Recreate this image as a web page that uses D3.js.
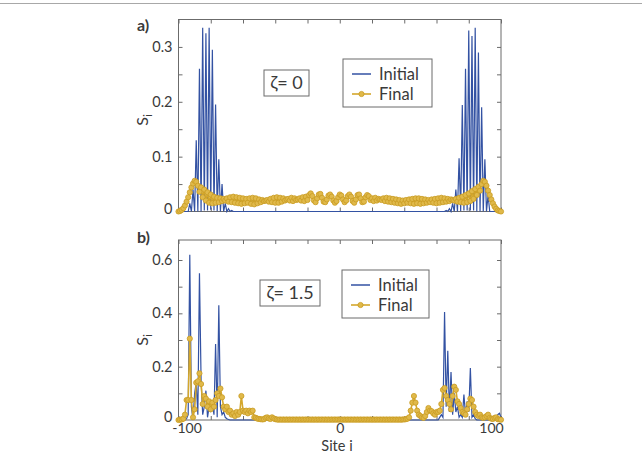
<!DOCTYPE html>
<html>
<head>
<meta charset="utf-8">
<script src="https://cdn.jsdelivr.net/npm/d3@7"></script>
<style>
    body { margin: 0; background: #fff; }
    text { font-family: Lato, "Open Sans", sans-serif; fill: #3a3a3a; }
    .axis path { display: none; }
    .axis line { stroke: #6b6b6b; }
</style>
</head>
<body>
<div id="chart"></div>
<script>
// Site index on the x axis
const sites = d3.range(-100, 101);

// Panel a) zeta = 0, one value per site from -100 to 100
const initialA = [
    0, 0, 0, 0, 0, 0, 0, 0.015, 0, 0.04,
    0, 0.13, 0, 0.26, 0, 0.335, 0.002, 0.325, 0.002, 0.335,
    0.003, 0.295, 0.002, 0.195, 0.001, 0.095, 0, 0.05, 0, 0.015,
    0, 0.005, 0, 0.002, 0, 0, 0, 0, 0, 0,
    0, 0, 0, 0, 0, 0, 0, 0, 0, 0,
    0, 0, 0, 0, 0, 0, 0, 0, 0, 0,
    0, 0, 0, 0, 0, 0, 0, 0, 0, 0,
    0, 0, 0, 0, 0, 0, 0, 0, 0, 0,
    0, 0, 0, 0, 0, 0, 0, 0, 0, 0,
    0, 0, 0, 0, 0, 0, 0, 0, 0, 0,
    0, 0, 0, 0, 0, 0, 0, 0, 0, 0,
    0, 0, 0, 0, 0, 0, 0, 0, 0, 0,
    0, 0, 0, 0, 0, 0, 0, 0, 0, 0,
    0, 0, 0, 0, 0, 0, 0, 0, 0, 0,
    0, 0, 0, 0, 0, 0, 0, 0, 0, 0,
    0, 0, 0, 0, 0, 0, 0, 0, 0, 0,
    0, 0, 0, 0, 0, 0, 0.002, 0, 0.005, 0,
    0.015, 0, 0.04, 0, 0.097, 0.001, 0.194, 0.002, 0.26, 0.002,
    0.33, 0.002, 0.32, 0.002, 0.335, 0, 0.29, 0, 0.19, 0,
    0.095, 0, 0.03, 0, 0, 0, 0, 0, 0, 0,
    0
];
const finalA = [
    0.000, 0.001, 0.003, 0.006, 0.011, 0.018, 0.026, 0.035, 0.044, 0.051,
    0.056, 0.054, 0.047, 0.036, 0.044, 0.026, 0.040, 0.020, 0.035, 0.016,
    0.031, 0.015, 0.027, 0.016, 0.025, 0.017, 0.024, 0.019, 0.023, 0.020,
    0.024, 0.018, 0.026, 0.017, 0.027, 0.016, 0.026, 0.015, 0.025, 0.014,
    0.024, 0.015, 0.023, 0.016, 0.024, 0.014, 0.025, 0.013, 0.024, 0.015,
    0.022, 0.017, 0.021, 0.019, 0.020, 0.021, 0.018, 0.023, 0.017, 0.025,
    0.016, 0.026, 0.016, 0.025, 0.018, 0.024, 0.020, 0.022, 0.023, 0.020,
    0.025, 0.019, 0.024, 0.021, 0.022, 0.024, 0.020, 0.026, 0.019, 0.027,
    0.021, 0.030, 0.033, 0.028, 0.020, 0.017, 0.024, 0.031, 0.032, 0.025,
    0.018, 0.017, 0.022, 0.029, 0.031, 0.027, 0.020, 0.016, 0.019, 0.026,
    0.031, 0.029, 0.022, 0.017, 0.020, 0.028, 0.031, 0.027, 0.019, 0.016,
    0.022, 0.030, 0.031, 0.024, 0.017, 0.018, 0.026, 0.030, 0.028, 0.021,
    0.024, 0.019, 0.025, 0.020, 0.023, 0.022, 0.021, 0.024, 0.019, 0.025,
    0.018, 0.024, 0.017, 0.023, 0.016, 0.022, 0.015, 0.021, 0.014, 0.020,
    0.015, 0.021, 0.016, 0.022, 0.015, 0.023, 0.014, 0.024, 0.015, 0.024,
    0.014, 0.023, 0.015, 0.022, 0.016, 0.021, 0.017, 0.022, 0.016, 0.023,
    0.015, 0.024, 0.016, 0.025, 0.017, 0.024, 0.018, 0.023, 0.019, 0.022,
    0.021, 0.020, 0.023, 0.018, 0.025, 0.017, 0.027, 0.016, 0.030, 0.017,
    0.033, 0.019, 0.037, 0.023, 0.041, 0.030, 0.045, 0.038, 0.050, 0.056,
    0.054, 0.047, 0.038, 0.030, 0.022, 0.015, 0.009, 0.005, 0.002, 0.001,
    0.000
];

// Panel b) zeta = 1.5
const initialB = [
    0, 0, 0, 0, 0, 0.005, 0.02, 0.62, 0.05, 0,
    0.10, 0.14, 0.02, 0.55, 0.15, 0.02, 0.05, 0.11, 0.01, 0.05,
    0.03, 0.06, 0.02, 0.285, 0.01, 0.43, 0.05, 0.02, 0.03, 0.01,
    0.005, 0.002, 0, 0, 0, 0, 0, 0, 0, 0,
    0, 0, 0, 0, 0, 0, 0, 0, 0, 0,
    0, 0, 0, 0, 0, 0, 0, 0, 0, 0,
    0, 0, 0, 0, 0, 0, 0, 0, 0, 0,
    0, 0, 0, 0, 0, 0, 0, 0, 0, 0,
    0, 0, 0, 0, 0, 0, 0, 0, 0, 0,
    0, 0, 0, 0, 0, 0, 0, 0, 0, 0,
    0, 0, 0, 0, 0, 0, 0, 0, 0, 0,
    0, 0, 0, 0, 0, 0, 0, 0, 0, 0,
    0, 0, 0, 0, 0, 0, 0, 0, 0, 0,
    0, 0, 0, 0, 0, 0, 0, 0, 0, 0,
    0, 0, 0, 0, 0, 0, 0, 0, 0, 0,
    0, 0, 0, 0, 0, 0, 0, 0, 0, 0,
    0, 0, 0.01, 0.02, 0.01, 0.405, 0.05, 0.26, 0.03, 0.18,
    0.02, 0.10, 0.03, 0.05, 0.01, 0.02, 0.01, 0.095, 0.02, 0.07,
    0.03, 0.195, 0.01, 0.02, 0.005, 0, 0, 0, 0, 0,
    0, 0, 0, 0, 0, 0, 0, 0.005, 0.02, 0.025,
    0.01
];
const finalB = [
    0.000, 0.001, 0.002, 0.005, 0.020, 0.075, 0.075, 0.305, 0.075, 0.010,
    0.040, 0.140, 0.145, 0.175, 0.135, 0.060, 0.090, 0.080, 0.050, 0.070,
    0.040, 0.065, 0.050, 0.075, 0.100, 0.090, 0.118, 0.085, 0.050, 0.040,
    0.050, 0.030, 0.035, 0.020, 0.025, 0.015, 0.030, 0.020, 0.030, 0.090,
    0.035, 0.030, 0.035, 0.025, 0.035, 0.030, 0.035, 0.010, 0.008, 0.005,
    0.004, 0.003, 0.002, 0.003, 0.008, 0.010, 0.006, 0.004, 0.010, 0.006,
    0.003, 0.002, 0.001, 0.002, 0.001, 0.002, 0.001, 0.002, 0.001, 0.002,
    0.001, 0.002, 0.001, 0.002, 0.001, 0.002, 0.001, 0.002, 0.001, 0.002,
    0.001, 0.002, 0.001, 0.002, 0.001, 0.002, 0.001, 0.002, 0.001, 0.002,
    0.001, 0.002, 0.001, 0.002, 0.001, 0.002, 0.001, 0.002, 0.001, 0.002,
    0.001, 0.002, 0.001, 0.002, 0.001, 0.002, 0.001, 0.002, 0.001, 0.002,
    0.001, 0.002, 0.001, 0.002, 0.001, 0.002, 0.001, 0.002, 0.001, 0.002,
    0.001, 0.002, 0.001, 0.002, 0.001, 0.002, 0.001, 0.002, 0.001, 0.002,
    0.001, 0.002, 0.001, 0.002, 0.001, 0.002, 0.001, 0.002, 0.001, 0.002,
    0.002, 0.003, 0.005, 0.010, 0.035, 0.065, 0.090, 0.065, 0.035, 0.020,
    0.015, 0.010, 0.008, 0.015, 0.030, 0.045, 0.035, 0.033, 0.025, 0.020,
    0.030, 0.030, 0.035, 0.060, 0.113, 0.120, 0.090, 0.075, 0.060, 0.040,
    0.090, 0.125, 0.113, 0.070, 0.060, 0.045, 0.030, 0.025, 0.020, 0.040,
    0.060, 0.080, 0.075, 0.050, 0.030, 0.020, 0.015, 0.020, 0.010, 0.008,
    0.010, 0.015, 0.020, 0.008, 0.005, 0.004, 0.008, 0.010, 0.003, 0.002,
    0.001
];

// Tick values and labels
const xTicks = [-100, -80, -60, -40, -20, 0, 20, 40, 60, 80, 100];
const xTickLabels = ["-100", "", "", "", "", "0", "", "", "", "", "100"];
const yTicksA = [0, 0.05, 0.1, 0.15, 0.2, 0.25, 0.3];
const yTickLabelsA = ["0", "", "0.1", "", "0.2", "", "0.3"];
const yTicksB = [0, 0.1, 0.2, 0.3, 0.4, 0.5, 0.6];
const yTickLabelsB = ["0", "", "0.2", "", "0.4", "", "0.6"];
const seriesNames = ["Initial", "Final"];

const blue = "#3352a3";
const gold = "#d4a72c";

const W = 642, H = 455;
const svg = d3.select("#chart").append("svg")
    .attr("width", W)
    .attr("height", H);

// thin rule at the top of the figure
svg.append("line")
    .attr("x1", 0).attr("x2", W)
    .attr("y1", 3.5).attr("y2", 3.5)
    .attr("stroke", "#a8a8a8");

const left = 178.5, right = 501;

let x = d3.scaleLinear()
    .domain([-100, 100])
    .range([left, right]);

function drawPanel(cfg) {
    let y = d3.scaleLinear()
        .domain(cfg.yDomain)
        .range([cfg.bottom, cfg.top]);

    let g = svg.append("g");

    // Axes with inward ticks on all four sides
    g.append("g")
        .attr("class", "axis")
        .attr("transform", "translate(" + left + ",0)")
        .call(d3.axisLeft(y).tickValues(cfg.yTicks).tickSize(-4).tickPadding(6)
            .tickFormat((d, i) => cfg.yLabels[i]))
        .selectAll("text")
        .style("font-size", "14.5px")
        .attr("fill", "#3a3a3a")
        .attr("y", d => d === 0 ? -3 : 0);

    g.append("g")
        .attr("class", "axis")
        .attr("transform", "translate(" + right + ",0)")
        .call(d3.axisRight(y).tickValues(cfg.yTicks).tickSize(-4).tickFormat(""));

    g.append("g")
        .attr("class", "axis")
        .attr("transform", "translate(0," + cfg.top + ")")
        .call(d3.axisTop(x).tickValues(xTicks).tickSize(-4).tickFormat(""));

    let xb = g.append("g")
        .attr("class", "axis")
        .attr("transform", "translate(0," + cfg.bottom + ")")
        .call(d3.axisBottom(x).tickValues(xTicks).tickSize(-4).tickPadding(3.5)
            .tickFormat((d, i) => cfg.showX ? xTickLabels[i] : ""));
    xb.selectAll("text")
        .style("font-size", "14px")
        .attr("fill", "#3a3a3a")
        .attr("dx", d => d === -100 ? 8 : (d === 100 ? -10 : 0));

    // Box
    g.append("rect")
        .attr("x", left).attr("y", cfg.top)
        .attr("width", right - left).attr("height", cfg.bottom - cfg.top)
        .attr("fill", "none")
        .attr("stroke", "#6b6b6b")
        .attr("stroke-width", 1);

    let line = d3.line()
        .x((d, i) => x(sites[i]))
        .y(d => y(d));

    g.append("path")
        .datum(cfg.initial)
        .attr("d", line)
        .attr("fill", "none")
        .attr("stroke", blue)
        .attr("stroke-width", 1.2);

    g.append("path")
        .datum(cfg.final)
        .attr("d", line)
        .attr("fill", "none")
        .attr("stroke", gold)
        .attr("stroke-width", 1.6);

    g.selectAll(".dot")
        .data(cfg.final)
        .enter()
        .append("circle")
        .attr("class", "dot")
        .attr("cx", (d, i) => x(sites[i]))
        .attr("cy", d => y(d))
        .attr("r", 2.6)
        .attr("fill", "#e0b94a")
        .attr("stroke", "#c99c22")
        .attr("stroke-width", 0.8);

    // Panel letter
    g.append("text")
        .attr("x", 137).attr("y", cfg.letterY)
        .style("font-size", "16px")
        .style("font-weight", "bold")
        .attr("fill", "#000")
        .text(cfg.letter);

    // y label S_i
    let yl = g.append("text")
        .attr("transform", "translate(148," + cfg.ylabelY + ") rotate(-90)")
        .attr("text-anchor", "middle")
        .style("font-size", "16px");
    yl.append("tspan").text("S");
    yl.append("tspan").attr("dy", 4).style("font-size", "12px").text("i");

    // zeta box
    g.append("rect")
        .attr("x", cfg.zBox[0]).attr("y", cfg.zBox[1])
        .attr("width", cfg.zBox[2]).attr("height", cfg.zBox[3])
        .attr("fill", "#fff")
        .attr("stroke", "#6b6b6b");
    g.append("text")
        .attr("x", cfg.zBox[0] + cfg.zBox[2] / 2)
        .attr("y", cfg.zBox[1] + cfg.zBox[3] - 7)
        .attr("text-anchor", "middle")
        .style("font-size", "18px")
        .text(cfg.zeta);

    // legend
    let lb = cfg.legBox;
    let leg = g.append("g");
    leg.append("rect")
        .attr("x", lb[0]).attr("y", lb[1])
        .attr("width", lb[2]).attr("height", lb[3])
        .attr("fill", "#fff")
        .attr("stroke", "#6b6b6b");
    let row1 = lb[1] + 15, row2 = lb[1] + 35;
    leg.append("line")
        .attr("x1", lb[0] + 9).attr("x2", lb[0] + 28)
        .attr("y1", row1).attr("y2", row1)
        .attr("stroke", blue).attr("stroke-width", 1.5);
    leg.append("line")
        .attr("x1", lb[0] + 9).attr("x2", lb[0] + 28)
        .attr("y1", row2).attr("y2", row2)
        .attr("stroke", gold).attr("stroke-width", 1.6);
    leg.append("circle")
        .attr("cx", lb[0] + 18.5).attr("cy", row2).attr("r", 2.6)
        .attr("fill", "#e0b94a").attr("stroke", "#c99c22").attr("stroke-width", 0.8);
    leg.selectAll(".legtext")
        .data(seriesNames)
        .enter()
        .append("text")
        .attr("x", lb[0] + 36)
        .attr("y", (d, i) => (i === 0 ? row1 : row2) + 6)
        .style("font-size", "16.5px")
        .text(d => d);
}

drawPanel({
    top: 19.5, bottom: 211.5,
    yDomain: [0, 0.35], yTicks: yTicksA, yLabels: yTickLabelsA,
    initial: initialA, final: finalA,
    showX: false,
    letter: "a)", letterY: 31, ylabelY: 120,
    zeta: "ζ= 0", zBox: [264, 70, 45, 26],
    legBox: [343, 59, 89, 48]
});

drawPanel({
    top: 240, bottom: 420,
    yDomain: [0, 0.675], yTicks: yTicksB, yLabels: yTickLabelsB,
    initial: initialB, final: finalB,
    showX: true,
    letter: "b)", letterY: 243, ylabelY: 340,
    zeta: "ζ= 1.5", zBox: [260, 280, 60, 26],
    legBox: [342, 270, 87, 48]
});

// x label
svg.append("text")
    .attr("x", 337).attr("y", 451)
    .attr("text-anchor", "middle")
    .style("font-size", "14.5px")
    .text("Site i");
</script>
</body>
</html>
